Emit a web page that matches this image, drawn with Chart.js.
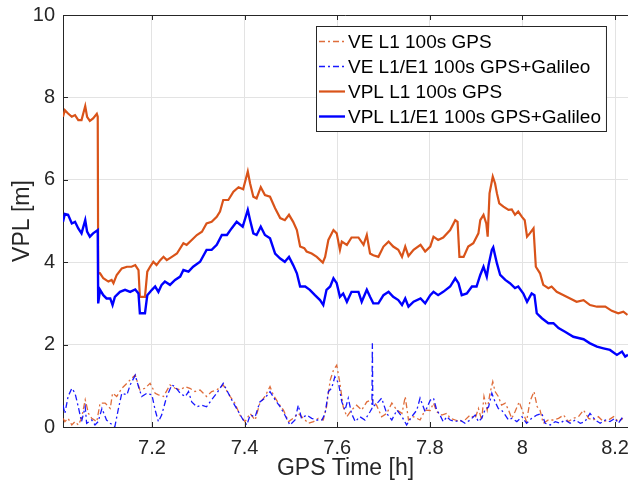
<!DOCTYPE html>
<html>
<head>
<meta charset="utf-8">
<script src="https://cdn.jsdelivr.net/npm/chart.js@4.4.1/dist/chart.umd.min.js"></script>
<style>
  body { margin: 0; background: #fff; }
  #wrap { width: 628px; height: 486px; }
</style>
</head>
<body>
<div id="wrap"><canvas id="vplChart"></canvas></div>
<script>
// labels as in the legend
const seriesLabels = [
    'VE L1 100s GPS',
    'VE L1/E1 100s GPS+Galileo',
    'VPL L1 100s GPS',
    'VPL L1/E1 100s GPS+Galileo'
];

const xTicks = [7.2, 7.4, 7.6, 7.8, 8, 8.2];
const yTicks = [0, 2, 4, 6, 8, 10];

// [GPS time h, metres]
const veGps = [
    [7.008, 0.21], [7.012, 0.13], [7.019, 0.21], [7.027, 0.05], [7.034, 0.13], [7.041, 0.05],
    [7.048, 0.21], [7.056, 0.66], [7.063, 0.33], [7.070, 0.21], [7.081, 0.13], [7.088, 0.58],
    [7.099, 0.58], [7.110, 0.45], [7.115, 0.82], [7.124, 0.74], [7.135, 0.94], [7.146, 1.06],
    [7.156, 1.18], [7.164, 1.26], [7.174, 0.90], [7.185, 0.94], [7.196, 1.06], [7.207, 0.82],
    [7.214, 0.78], [7.225, 0.74], [7.239, 1.02], [7.250, 0.94], [7.261, 0.90], [7.272, 0.98],
    [7.282, 0.94], [7.293, 0.86], [7.304, 0.90], [7.311, 0.82], [7.318, 0.74], [7.329, 0.86],
    [7.340, 0.90], [7.354, 1.02], [7.369, 0.74], [7.379, 0.58], [7.390, 0.29], [7.401, 0.13],
    [7.412, 0.33], [7.423, 0.17], [7.433, 0.58], [7.444, 0.74], [7.455, 0.98], [7.462, 0.78],
    [7.473, 0.58], [7.484, 0.41], [7.495, 0.13], [7.505, 0.21], [7.516, 0.33], [7.527, 0.21],
    [7.538, 0.09], [7.549, 0.13], [7.559, 0.21], [7.570, 0.17], [7.577, 0.49], [7.585, 1.14],
    [7.592, 1.38], [7.599, 1.50], [7.606, 1.06], [7.613, 0.49], [7.621, 0.25], [7.631, 0.41],
    [7.642, 0.53], [7.653, 0.41], [7.664, 0.61], [7.675, 0.66], [7.685, 0.53], [7.696, 0.25],
    [7.707, 0.33], [7.718, 0.58], [7.729, 0.41], [7.740, 0.33], [7.747, 0.74], [7.754, 0.17],
    [7.765, 0.25], [7.779, 0.17], [7.790, 0.41], [7.801, 0.40], [7.808, 0.58], [7.815, 0.37],
    [7.826, 0.29], [7.837, 0.33], [7.844, 0.21], [7.855, 0.17], [7.865, 0.13], [7.876, 0.17],
    [7.887, 0.29], [7.898, 0.21], [7.905, 0.45], [7.912, 0.17], [7.917, 0.74], [7.924, 0.41],
    [7.930, 0.82], [7.936, 1.10], [7.941, 0.86], [7.948, 0.74], [7.955, 0.53], [7.963, 0.58],
    [7.970, 0.41], [7.977, 0.21], [7.984, 0.37], [7.993, 0.61], [8.002, 0.33], [8.009, 0.13],
    [8.016, 0.61], [8.025, 0.86], [8.032, 0.49], [8.038, 0.41], [8.045, 0.09], [8.056, 0.17],
    [8.067, 0.17], [8.078, 0.21], [8.089, 0.29], [8.099, 0.13], [8.110, 0.21], [8.121, 0.25],
    [8.132, 0.41], [8.143, 0.21], [8.153, 0.17], [8.164, 0.25], [8.175, 0.13], [8.186, 0.17],
    [8.197, 0.25], [8.207, 0.13], [8.217, 0.21]
];

const veGal = [
    [7.008, 0.53], [7.012, 0.33], [7.019, 0.74], [7.027, 0.94], [7.034, 0.82], [7.041, 0.49],
    [7.048, 0.13], [7.056, 0.49], [7.059, 0.09], [7.070, 0.17], [7.077, 0.05], [7.084, 0.13],
    [7.092, 0.45], [7.102, 0.17], [7.110, 0.09], [7.120, 0.01], [7.127, 0.41], [7.135, 0.82],
    [7.146, 0.78], [7.153, 1.02], [7.164, 1.26], [7.171, 0.98], [7.178, 0.74], [7.189, 0.82],
    [7.200, 0.78], [7.207, 0.41], [7.214, 0.13], [7.221, 0.29], [7.232, 0.74], [7.243, 1.02],
    [7.250, 0.98], [7.261, 0.82], [7.272, 0.74], [7.279, 0.86], [7.286, 0.61], [7.297, 0.49],
    [7.308, 0.53], [7.318, 0.49], [7.329, 0.66], [7.340, 0.82], [7.354, 1.06], [7.365, 0.82],
    [7.376, 0.58], [7.387, 0.37], [7.397, 0.17], [7.405, 0.05], [7.412, 0.29], [7.423, 0.25],
    [7.433, 0.61], [7.444, 0.70], [7.455, 0.86], [7.466, 0.66], [7.477, 0.49], [7.487, 0.29],
    [7.498, 0.05], [7.509, 0.17], [7.516, 0.53], [7.523, 0.21], [7.534, 0.29], [7.545, 0.21],
    [7.556, 0.17], [7.567, 0.17], [7.574, 0.33], [7.581, 0.86], [7.588, 0.94], [7.595, 1.22],
    [7.603, 1.06], [7.610, 0.61], [7.617, 0.41], [7.624, 0.70], [7.631, 0.33], [7.639, 0.13],
    [7.649, 0.25], [7.660, 0.17], [7.671, 0.37], [7.675, 0.45], [7.676, 2.03], [7.677, 0.49],
    [7.689, 0.61], [7.696, 0.70], [7.707, 0.33], [7.718, 0.17], [7.729, 0.41], [7.740, 0.25],
    [7.750, 0.05], [7.761, 0.25], [7.772, 0.41], [7.779, 0.70], [7.790, 0.37], [7.801, 0.65],
    [7.808, 0.70], [7.815, 0.41], [7.822, 0.29], [7.829, 0.13], [7.837, 0.25], [7.844, 0.17],
    [7.855, 0.13], [7.865, 0.17], [7.876, 0.09], [7.887, 0.17], [7.898, 0.29], [7.905, 0.13],
    [7.912, 0.21], [7.919, 0.41], [7.927, 0.49], [7.934, 0.82], [7.941, 0.61], [7.948, 0.45],
    [7.955, 0.41], [7.963, 0.29], [7.970, 0.17], [7.977, 0.21], [7.988, 0.13], [7.999, 0.25],
    [8.009, 0.09], [8.020, 0.21], [8.031, 0.29], [8.042, 0.33], [8.049, 0.09], [8.060, 0.05],
    [8.071, 0.13], [8.081, 0.09], [8.092, 0.17], [8.103, 0.09], [8.114, 0.17], [8.125, 0.09],
    [8.135, 0.13], [8.146, 0.33], [8.157, 0.17], [8.168, 0.09], [8.179, 0.17], [8.189, 0.13],
    [8.200, 0.21], [8.207, 0.09], [8.217, 0.25]
];

const vplGps = [
    [7.008, 7.53], [7.012, 7.69], [7.019, 7.61], [7.027, 7.53], [7.034, 7.57], [7.041, 7.45],
    [7.048, 7.45], [7.056, 7.79], [7.060, 7.53], [7.066, 7.43], [7.073, 7.49], [7.081, 7.60],
    [7.083, 7.53], [7.084, 3.74], [7.088, 3.73], [7.095, 3.61], [7.106, 3.53], [7.113, 3.57],
    [7.117, 3.49], [7.124, 3.69], [7.135, 3.85], [7.146, 3.89], [7.156, 3.89], [7.164, 3.93],
    [7.171, 3.81], [7.174, 3.16], [7.185, 3.16], [7.190, 3.77], [7.196, 3.89], [7.203, 4.01],
    [7.210, 3.93], [7.218, 4.05], [7.225, 4.13], [7.232, 4.05], [7.243, 4.13], [7.254, 4.21],
    [7.268, 4.46], [7.275, 4.42], [7.286, 4.54], [7.297, 4.66], [7.308, 4.74], [7.318, 4.94],
    [7.329, 4.98], [7.340, 5.10], [7.347, 5.23], [7.354, 5.51], [7.365, 5.51], [7.376, 5.71],
    [7.387, 5.82], [7.397, 5.77], [7.407, 6.20], [7.412, 5.91], [7.419, 5.59], [7.426, 5.55],
    [7.435, 5.82], [7.444, 5.63], [7.455, 5.59], [7.466, 5.31], [7.477, 5.07], [7.487, 5.02],
    [7.496, 5.15], [7.505, 4.98], [7.513, 4.78], [7.520, 4.38], [7.529, 4.34], [7.534, 4.26],
    [7.545, 4.21], [7.556, 4.13], [7.569, 3.99], [7.574, 4.13], [7.581, 4.54], [7.592, 4.78],
    [7.599, 4.70], [7.606, 4.30], [7.610, 4.50], [7.621, 4.42], [7.631, 4.60], [7.646, 4.60],
    [7.657, 4.42], [7.664, 4.66], [7.671, 4.21], [7.678, 4.17], [7.689, 4.13], [7.700, 4.38],
    [7.711, 4.50], [7.721, 4.38], [7.732, 4.30], [7.740, 4.13], [7.747, 4.38], [7.754, 4.15],
    [7.765, 4.30], [7.780, 4.42], [7.790, 4.26], [7.801, 4.38], [7.808, 4.62], [7.818, 4.54],
    [7.829, 4.60], [7.844, 4.78], [7.855, 5.02], [7.860, 4.98], [7.864, 4.13], [7.873, 4.13],
    [7.883, 4.38], [7.894, 4.46], [7.905, 4.70], [7.909, 5.02], [7.916, 5.15], [7.922, 4.94],
    [7.925, 4.62], [7.929, 5.67], [7.936, 6.08], [7.941, 5.91], [7.945, 5.67], [7.950, 5.43],
    [7.959, 5.35], [7.970, 5.27], [7.977, 5.28], [7.984, 5.15], [7.991, 5.23], [7.999, 5.10],
    [8.005, 5.02], [8.010, 4.62], [8.016, 4.70], [8.024, 4.82], [8.029, 3.89], [8.038, 3.73],
    [8.045, 3.45], [8.056, 3.37], [8.063, 3.41], [8.074, 3.28], [8.089, 3.20], [8.103, 3.12],
    [8.117, 3.04], [8.132, 3.08], [8.146, 2.96], [8.161, 2.92], [8.179, 2.92], [8.193, 2.82],
    [8.207, 2.76], [8.218, 2.80], [8.227, 2.72]
];

const vplGal = [
    [7.008, 4.98], [7.012, 5.17], [7.019, 5.15], [7.027, 4.94], [7.034, 4.98], [7.041, 4.82],
    [7.048, 4.70], [7.056, 5.02], [7.060, 4.74], [7.066, 4.62], [7.073, 4.70], [7.083, 4.78],
    [7.084, 3.00], [7.088, 3.33], [7.095, 3.20], [7.102, 3.12], [7.110, 3.12], [7.115, 2.96],
    [7.120, 3.16], [7.131, 3.28], [7.142, 3.33], [7.153, 3.28], [7.164, 3.34], [7.171, 3.24],
    [7.174, 2.76], [7.185, 2.76], [7.190, 3.20], [7.200, 3.33], [7.207, 3.41], [7.214, 3.28],
    [7.221, 3.45], [7.228, 3.53], [7.239, 3.45], [7.250, 3.57], [7.261, 3.65], [7.268, 3.81],
    [7.279, 3.77], [7.289, 3.89], [7.304, 4.01], [7.318, 4.30], [7.329, 4.30], [7.340, 4.42],
    [7.351, 4.66], [7.362, 4.66], [7.372, 4.82], [7.383, 4.98], [7.396, 4.86], [7.407, 5.27],
    [7.412, 5.02], [7.419, 4.70], [7.426, 4.66], [7.435, 4.86], [7.444, 4.66], [7.455, 4.58],
    [7.466, 4.21], [7.477, 4.09], [7.487, 4.01], [7.496, 4.13], [7.505, 3.93], [7.513, 3.73],
    [7.520, 3.41], [7.531, 3.41], [7.541, 3.33], [7.552, 3.20], [7.563, 3.08], [7.570, 2.96],
    [7.577, 3.33], [7.585, 3.41], [7.592, 3.61], [7.599, 3.49], [7.606, 3.16], [7.613, 3.24],
    [7.621, 3.04], [7.631, 3.28], [7.646, 3.28], [7.653, 3.04], [7.664, 3.33], [7.671, 3.16],
    [7.678, 3.00], [7.689, 3.00], [7.700, 3.20], [7.711, 3.28], [7.721, 3.16], [7.732, 3.08],
    [7.740, 2.96], [7.747, 3.12], [7.754, 2.92], [7.765, 3.04], [7.780, 3.12], [7.790, 3.00],
    [7.801, 3.20], [7.808, 3.28], [7.818, 3.20], [7.829, 3.28], [7.844, 3.41], [7.855, 3.61],
    [7.862, 3.49], [7.869, 3.20], [7.880, 3.24], [7.891, 3.41], [7.901, 3.41], [7.909, 3.69],
    [7.916, 3.89], [7.923, 3.65], [7.927, 3.93], [7.934, 4.30], [7.937, 4.36], [7.945, 3.97],
    [7.952, 3.69], [7.963, 3.57], [7.973, 3.49], [7.984, 3.37], [7.991, 3.41], [8.002, 3.24],
    [8.010, 3.04], [8.020, 3.24], [8.026, 3.20], [8.031, 2.76], [8.042, 2.64], [8.056, 2.52],
    [8.067, 2.52], [8.078, 2.40], [8.092, 2.31], [8.110, 2.19], [8.132, 2.13], [8.146, 2.03],
    [8.161, 1.95], [8.175, 1.91], [8.189, 1.87], [8.204, 1.75], [8.215, 1.83], [8.222, 1.71],
    [8.228, 1.75]
];

const FONT = '"Liberation Sans", Arial, Helvetica, sans-serif';
const AXIS_COLOR = '#262626';

function toPoints(pairs) {
    return pairs.map(p => ({ x: p[0], y: p[1] }));
}

// top border, inward tick marks like the matlab box
const frame = {
    id: 'frame',
    afterDraw(chart) {
        const { ctx, chartArea } = chart;
        const xs = chart.scales.x;
        const ys = chart.scales.y;
        ctx.save();
        ctx.strokeStyle = AXIS_COLOR;
        ctx.lineWidth = 1;
        ctx.beginPath();
        ctx.moveTo(chartArea.left, chartArea.top + 0.5);
        ctx.lineTo(chartArea.right, chartArea.top + 0.5);
        xTicks.forEach(v => {
            const px = Math.round(xs.getPixelForValue(v)) + 0.5;
            ctx.moveTo(px, chartArea.bottom);
            ctx.lineTo(px, chartArea.bottom - 5);
            ctx.moveTo(px, chartArea.top);
            ctx.lineTo(px, chartArea.top + 5);
        });
        yTicks.forEach(v => {
            const py = Math.round(ys.getPixelForValue(v)) + 0.5;
            ctx.moveTo(chartArea.left, py);
            ctx.lineTo(chartArea.left + 5, py);
        });
        ctx.stroke();
        ctx.restore();
    }
};

// boxed legend in the upper right of the axes
const legendBox = {
    id: 'legendBox',
    afterDraw(chart) {
        const { ctx, chartArea } = chart;
        const sets = chart.data.datasets;
        ctx.save();
        ctx.font = '19px ' + FONT;
        const textW = Math.max(...sets.map(d => ctx.measureText(d.label).width));
        const rowH = 25;
        const boxW = 32 + textW + 5;
        const boxH = sets.length * rowH + 5;
        const right = chartArea.right - 22;
        const left = Math.round(right - boxW);
        const top = Math.round(chartArea.top + 11);
        ctx.fillStyle = '#fff';
        ctx.fillRect(left, top, boxW, boxH);
        ctx.strokeStyle = AXIS_COLOR;
        ctx.lineWidth = 1;
        ctx.strokeRect(left + 0.5, top + 0.5, boxW, boxH);
        sets.forEach((d, i) => {
            const y = top + 15.5 + i * rowH;
            ctx.beginPath();
            ctx.setLineDash(d.borderDash || []);
            ctx.strokeStyle = d.borderColor;
            ctx.lineWidth = d.borderWidth;
            ctx.moveTo(left + 3, y);
            ctx.lineTo(left + 29, y);
            ctx.stroke();
            ctx.setLineDash([]);
            ctx.fillStyle = '#000';
            ctx.textBaseline = 'middle';
            ctx.fillText(d.label, left + 32, y + 1);
        });
        ctx.restore();
    }
};

const ctx = document.getElementById('vplChart').getContext('2d');

const myChart = new Chart(ctx, {
    type: 'line',
    data: {
        datasets: [{
            label: seriesLabels[0],
            data: toPoints(veGps),
            borderColor: 'rgba(217, 83, 25, 0.85)',
            borderWidth: 1.3,
            borderDash: [6, 3, 2, 3],
            order: 4
        }, {
            label: seriesLabels[1],
            data: toPoints(veGal),
            borderColor: 'rgba(0, 0, 255, 0.9)',
            borderWidth: 1.3,
            borderDash: [6, 3, 2, 3],
            order: 3
        }, {
            label: seriesLabels[2],
            data: toPoints(vplGps),
            borderColor: '#D95319',
            borderWidth: 2.2,
            order: 2
        }, {
            label: seriesLabels[3],
            data: toPoints(vplGal),
            borderColor: '#0000FF',
            borderWidth: 2.4,
            order: 1
        }]
    },
    options: {
        responsive: true,
        maintainAspectRatio: false,
        animation: false,
        elements: {
            point: { radius: 0, hoverRadius: 0 },
            line: { tension: 0, fill: false }
        },
        layout: { padding: { top: 15, right: 0, bottom: 0, left: 0 } },
        plugins: {
            legend: { display: false },
            tooltip: { enabled: false }
        },
        scales: {
            x: {
                type: 'linear',
                min: 7.008,
                max: 8.228,
                afterBuildTicks: scale => { scale.ticks = xTicks.map(v => ({ value: v })); },
                afterFit: scale => {
                    scale.height = 59;
                    scale.paddingLeft = 0;
                    scale.paddingRight = 0;
                },
                grid: { color: '#e3e3e3', drawTicks: false },
                border: { color: AXIS_COLOR, width: 1 },
                ticks: {
                    padding: 9,
                    color: AXIS_COLOR,
                    font: { family: FONT, size: 20 },
                    maxRotation: 0,
                    autoSkip: false,
                    callback: v => String(Number(v.toFixed(1)))
                },
                title: {
                    display: true,
                    text: 'GPS Time [h]',
                    color: AXIS_COLOR,
                    font: { family: FONT, size: 23 },
                    padding: { top: 0, bottom: 4 }
                }
            },
            y: {
                min: 0,
                max: 10,
                afterBuildTicks: scale => { scale.ticks = yTicks.map(v => ({ value: v })); },
                afterFit: scale => {
                    scale.width = 63;
                    scale.paddingTop = 0;
                    scale.paddingBottom = 0;
                },
                grid: { color: '#e3e3e3', drawTicks: false },
                border: { color: AXIS_COLOR, width: 1 },
                ticks: {
                    padding: 8,
                    color: AXIS_COLOR,
                    font: { family: FONT, size: 20 }
                },
                title: {
                    display: true,
                    text: 'VPL [m]',
                    color: AXIS_COLOR,
                    font: { family: FONT, size: 23 },
                    padding: { top: 9, bottom: 0 }
                }
            }
        }
    },
    plugins: [frame, legendBox]
});
</script>
</body>
</html>
